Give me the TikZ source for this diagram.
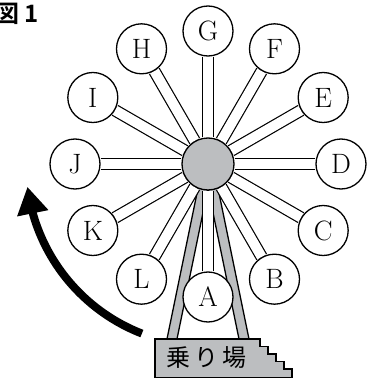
\documentclass[tikz,border=0pt]{standalone}
\usepackage{fontspec}
\usepackage{tikz}
\usetikzlibrary{arrows.meta,bending,backgrounds}
\newfontfamily\cjk[BoldFont={Noto Sans CJK JP Bold}]{Noto Sans CJK JP}
\definecolor{steel}{HTML}{BCBEC0}

\begin{document}
\begin{tikzpicture}[x=1pt,y=1pt,
  cabin/.style={circle,draw,line width=1.3pt,fill=white,minimum size=50pt,
    inner sep=0pt,font=\fontsize{28}{28}\selectfont},
  spoke/.style={line width=1.2pt,double=white,double distance=10pt},
  frame/.style={draw,line width=1.3pt,fill=steel}]
  \def\rad{133}

  \useasboundingbox (-208,-214) rectangle (166,164);
  \clip (-208,-214) rectangle (166,164);

  \node[anchor=base west,font=\cjk\bfseries\fontsize{24}{24}\selectfont] (fig) at (-216,141) {図 1};

  \node[frame,circle,minimum size=52pt,inner sep=0pt] (hub) at (0,0) {};

  \node[cabin] (A) at (-90:\rad) {A};
  \node[cabin] (B) at (-60:\rad) {B};
  \node[cabin] (C) at (-30:\rad) {C};
  \node[cabin] (D) at (0:\rad) {D};
  \node[cabin] (E) at (30:\rad) {E};
  \node[cabin] (F) at (60:\rad) {F};
  \node[cabin] (G) at (90:\rad) {G};
  \node[cabin] (H) at (120:\rad) {H};
  \node[cabin] (I) at (150:\rad) {I};
  \node[cabin] (J) at (180:\rad) {J};
  \node[cabin] (K) at (210:\rad) {K};
  \node[cabin] (L) at (240:\rad) {L};

  \begin{scope}[on background layer]
    \draw[frame] (-5,0) -- (5,0) -- (-31,-175) -- (-41,-175) -- cycle;
    \draw[frame] (-5,0) -- (5,0) -- (41,-175) -- (31,-175) -- cycle;

    \draw[spoke] (hub) -- (A);
    \draw[spoke] (hub) -- (B);
    \draw[spoke] (hub) -- (C);
    \draw[spoke] (hub) -- (D);
    \draw[spoke] (hub) -- (E);
    \draw[spoke] (hub) -- (F);
    \draw[spoke] (hub) -- (G);
    \draw[spoke] (hub) -- (H);
    \draw[spoke] (hub) -- (I);
    \draw[spoke] (hub) -- (J);
    \draw[spoke] (hub) -- (K);
    \draw[spoke] (hub) -- (L);
  \end{scope}

  \draw[frame] (-53,-175) -- (52,-175) -- (52,-182.5) -- (60,-182.5)
    -- (60,-190) -- (68,-190) -- (68,-197.5) -- (76,-197.5)
    -- (76,-205) -- (84,-205) -- (84,-214) -- (-53,-214) -- cycle;
  \node[font=\cjk\fontsize{24}{24}\selectfont] (ride) at (-1,-194) {乗\hspace{4pt}り\hspace{4pt}場};

  \draw[line width=8pt,-{Triangle[length=27pt,width=30pt]}]
    (248.7:182) arc[start angle=248.7,end angle=187.2,radius=182];
\end{tikzpicture}
\end{document}
